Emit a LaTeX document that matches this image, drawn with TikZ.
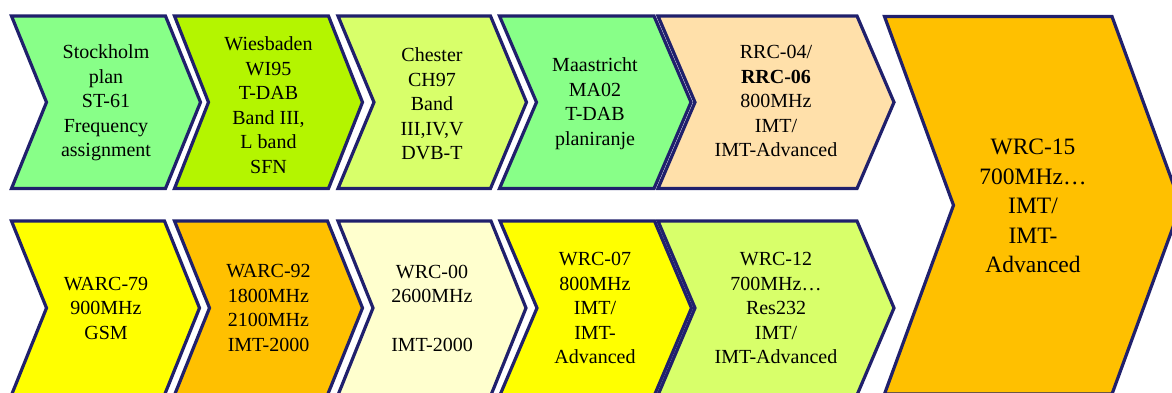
\documentclass[tikz,border=0pt]{standalone}
\usepackage{fontspec}
\setmainfont{Liberation Serif}
\definecolor{navy}{RGB}{32,32,108}
\definecolor{cgreen}{RGB}{136,255,136}
\definecolor{clime}{RGB}{180,245,0}
\definecolor{cpale}{RGB}{216,255,106}
\definecolor{cpeach}{RGB}{255,224,170}
\definecolor{camber}{RGB}{255,192,0}
\definecolor{cyel}{RGB}{255,255,0}
\definecolor{ccream}{RGB}{255,255,206}
% #1 L, #2 R, #3 top, #4 bottom, #5 depth, #6 fill
\newcommand\drawchev[6]{%
  \filldraw[chevbox,fill=#6] (#1,#3) -- (#2,#3) -- ({#2+#5},{(#3+#4)/2}) -- (#2,#4) -- (#1,#4) -- ({#1+#5},{(#3+#4)/2}) -- cycle;}
\tikzset{
  chevbox/.style={draw=navy,line width=3.2pt,line join=miter},
  lbl/.style={align=center,inner sep=0pt,font=\fontsize{20}{24.5}\selectfont},
  biglbl/.style={align=center,inner sep=0pt,font=\fontsize{23.5}{29.5}\selectfont},
}
\begin{document}
\begin{tikzpicture}[x=1pt,y=-1pt]
\useasboundingbox (0,0) rectangle (1172,392);
\clip (0,0) rectangle (1172,392);
% top row
\drawchev{11.5}{165.5}{16}{188.5}{35}{cgreen}
\drawchev{174.5}{328.5}{16}{188.5}{34}{clime}
\drawchev{338}{490.5}{16}{188.5}{36}{cpale}
\drawchev{499.5}{654}{16}{188.5}{37}{cgreen}
\drawchev{658}{857}{16}{188.5}{37}{cpeach}
% bottom row
\drawchev{11.5}{164.5}{221}{395}{35}{cyel}
\drawchev{174.5}{327.5}{221}{395}{35}{camber}
\drawchev{338}{491}{221}{395}{35}{ccream}
\drawchev{500}{654.5}{221}{395}{37}{cyel}
\drawchev{658}{857}{221}{395}{37}{cpale}
% big
\drawchev{884.5}{1112}{16.5}{394}{69}{camber}
% labels
\node[lbl] (t1) at (106,103) {Stockholm\\plan\\ST-61\\Frequency\\assignment};
\node[lbl] (t2) at (268.5,105) {Wiesbaden\\WI95\\T-DAB\\Band III,\\L band\\SFN};
\node[lbl] (t3) at (432,104) {Chester\\CH97\\Band\\III,IV,V\\DVB-T};
\node[lbl] (t4) at (595,103.5) {Maastricht\\MA02\\T-DAB\\planiranje};
\node[lbl] (t5) at (776,101) {RRC-04/\\\textbf{RRC-06}\\800MHz\\IMT/\\IMT-Advanced};
\node[lbl] (b1) at (106,308) {WARC-79\\900MHz\\GSM};
\node[lbl] (b2) at (268.5,308) {WARC-92\\1800MHz\\2100MHz\\IMT-2000};
\node[lbl] (b3) at (432,308.5) {WRC-00\\2600MHz\\\mbox{}\\IMT-2000};
\node[lbl] (b4) at (595,308) {WRC-07\\800MHz\\IMT/\\IMT-\\Advanced};
\node[lbl] (b5) at (776,308) {WRC-12\\700MHz…\\Res232\\IMT/\\IMT-Advanced};
\node[biglbl] (w15) at (1033,206) {WRC-15\\700MHz…\\IMT/\\IMT-\\Advanced};
\end{tikzpicture}
\end{document}
